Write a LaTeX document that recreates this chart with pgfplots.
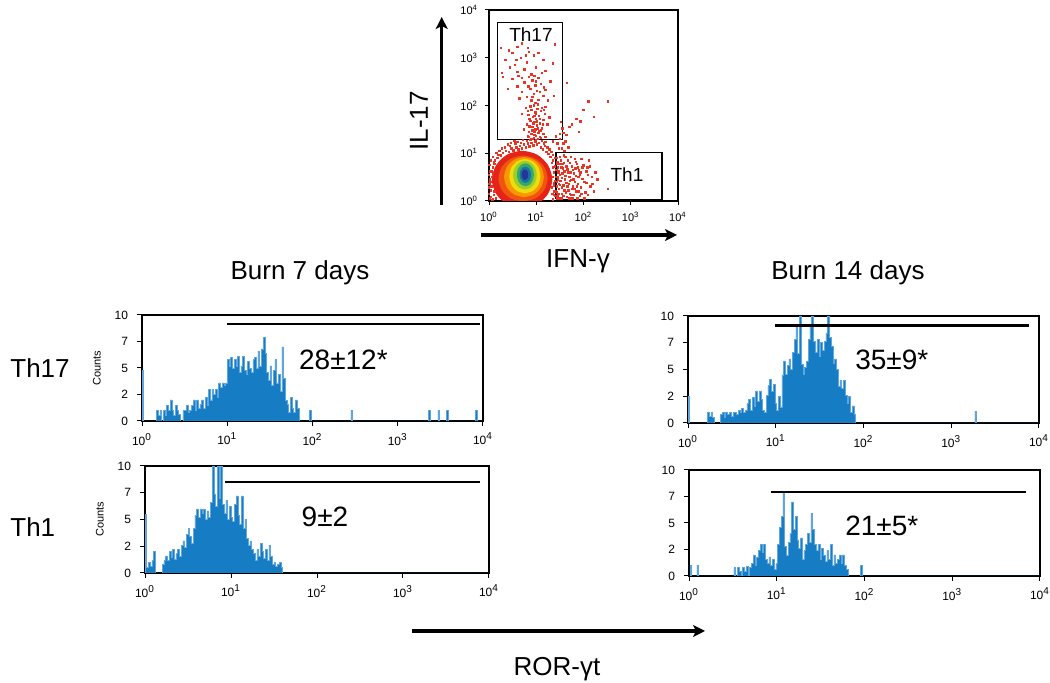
\documentclass[border=0pt]{standalone}
\usepackage{pgfplots}
\pgfplotsset{compat=1.18}
\usepackage{fontspec}
\setmainfont{Liberation Sans}
\usetikzlibrary{arrows.meta}
\definecolor{histblue}{RGB}{22,125,196}
\definecolor{histlight}{RGB}{95,165,222}
\definecolor{scatred}{RGB}{232,52,36}
\definecolor{c1}{RGB}{230,35,25}
\definecolor{c2}{RGB}{240,85,15}
\definecolor{c3}{RGB}{250,150,0}
\definecolor{c4}{RGB}{235,222,10}
\definecolor{c5}{RGB}{160,205,45}
\definecolor{c6}{RGB}{50,170,105}
\definecolor{c7}{RGB}{30,110,170}
\definecolor{c8}{RGB}{35,55,150}
\pgfplotsset{
  histo/.style={
    scale only axis, anchor=south west,
    xmin=0, xmax=4, ymin=0, ymax=10,
    xtick={0,1,2,3,4},
    xticklabels={10\textsuperscript{0},10\textsuperscript{1},10\textsuperscript{2},10\textsuperscript{3},10\textsuperscript{4}},
    ytick={0,2.5,5,7.5,10}, yticklabels={0,2,5,7,10},
    tick pos=left, tick align=outside, major tick length=2.5pt,
    tick style={black, line width=0.5pt},
    axis line style={line width=0.6pt},
    ticklabel style={font=\fontsize{6}{7}\selectfont},
    yticklabel style={xshift=-1pt},
    ylabel style={font=\fontsize{5.5}{6}\selectfont},
  },
  hbar/.style={const plot, fill=histblue, draw=histlight, line width=0.25pt},
  gateline/.style={black, line width=1.2pt, no marks},
}
\begin{document}
\begin{tikzpicture}
\useasboundingbox (0,0) rectangle (525pt,341.5pt);

% ---------------- scatter plot ----------------
\begin{axis}[
  at={(244.5pt,241pt)}, anchor=south west, scale only axis,
  width=94.5pt, height=95.5pt,
  xmin=0, xmax=4, ymin=0, ymax=4,
  xtick={0,1,2,3,4}, ytick={0,1,2,3,4},
  xticklabels={10\textsuperscript{0},10\textsuperscript{1},10\textsuperscript{2},10\textsuperscript{3},10\textsuperscript{4}},
  yticklabels={10\textsuperscript{0},10\textsuperscript{1},10\textsuperscript{2},10\textsuperscript{3},10\textsuperscript{4}},
  tick pos=left, tick align=outside, major tick length=2pt,
  tick style={black, line width=0.5pt},
  axis line style={line width=0.6pt},
  ticklabel style={font=\fontsize{5.5}{6}\selectfont},
]
\addplot[only marks, mark=square*, mark size=0.36pt, color=scatred, mark options={line width=0pt}] coordinates {
(0.02,0.05)(0.04,0.22)(0.01,0.35)(0.06,0.5)(0.03,0.62)(0.08,0.7)(0.10,0.12)(0.05,0.3)(0.12,0.78)(0.09,0.58)(0.02,0.45)(0.07,0.02)(0.13,0.85)(0.18,0.9)(0.15,0.05)
(0.25,0.95)(0.3,1.0)(0.36,1.05)(0.42,1.02)(0.48,1.1)(0.52,1.06)(0.58,1.12)(0.62,1.08)(0.66,1.15)(0.7,1.1)(0.74,1.18)(0.78,1.12)(0.82,1.2)(0.86,1.14)(0.9,1.22)(0.94,1.16)(0.98,1.25)(1.02,1.18)(1.06,1.22)(1.1,1.12)(1.14,1.08)(1.18,1.15)(1.22,1.02)(1.26,0.98)(1.3,0.92)(0.56,1.2)(0.88,1.28)(1.04,1.3)(0.44,1.15)(1.2,1.24)
(1.36,0.85)(1.4,0.72)(1.38,0.6)(1.42,0.5)(1.37,0.38)(1.44,0.3)(1.39,0.2)(1.41,0.1)(1.36,0.03)(1.43,0.65)(1.35,0.5)(1.4,0.42)(1.33,0.28)(1.38,0.12)(1.45,0.82)
(0.0,0.15)(0.0,0.55)(0.01,0.75)(0.04,0.85)(0.08,0.92)(0.16,1.0)(0.22,1.05)(0.28,1.1)(0.34,1.12)(0.4,1.18)(0.46,1.22)(0.54,1.26)(0.6,1.24)(0.68,1.22)(0.72,1.28)(0.8,1.26)(0.84,1.34)(0.92,1.3)(0.96,1.38)(1.08,1.34)(1.12,1.26)(1.16,1.2)(1.24,1.12)(1.28,1.08)(1.32,1.02)(1.36,0.96)(1.4,0.9)(1.44,0.78)(1.47,0.6)(1.46,0.45)(1.48,0.35)(1.47,0.15)(1.44,0.05)(1.35,0.7)(1.33,0.8)(1.38,0.32)(1.42,0.2)(1.34,0.15)
(0.04,0.08)(0.09,0.03)(0.12,0.2)(0.0,0.28)(0.03,0.4)(0.06,0.62)(0.1,0.82)(0.2,0.96)
(0.95,1.32)(1.0,1.36)(0.9,1.4)(1.05,1.42)(0.85,1.45)(1.1,1.48)(0.98,1.5)(0.92,1.55)(1.02,1.58)(1.12,1.52)(0.8,1.6)(1.08,1.62)(0.96,1.65)(0.88,1.68)(1.15,1.7)(1.0,1.72)(0.93,1.76)(1.06,1.78)(0.84,1.8)(1.18,1.82)(0.98,1.85)(1.1,1.88)(0.9,1.9)(1.03,1.93)(0.78,1.95)(1.2,1.97)(0.95,2.0)(0.74,1.5)(1.24,1.6)(0.7,1.82)(1.28,1.75)(1.15,1.4)(0.82,1.35)(1.2,1.34)(0.88,1.98)(1.06,1.46)(1.0,1.82)(0.94,1.62)(1.12,1.95)(0.86,1.56)
(0.9,1.3)(1.0,1.28)(1.1,1.32)(0.96,1.44)(1.04,1.52)(0.92,1.48)(1.14,1.6)(0.86,1.72)(1.02,1.66)(1.08,1.72)(0.96,1.78)(1.16,1.9)(0.82,1.88)(1.04,2.02)(0.92,2.18)(1.08,2.28)(0.84,2.4)(1.16,2.38)(0.96,2.62)(0.7,2.58)(1.12,2.68)(0.58,2.95)(0.78,3.05)(1.05,3.1)
(0.98,2.05)(0.9,2.1)(1.05,2.12)(0.8,2.18)(1.15,2.2)(0.95,2.24)(0.7,2.28)(1.02,2.3)(0.88,2.35)(1.2,2.32)(0.6,2.4)(0.98,2.42)(1.1,2.45)(0.75,2.48)(0.92,2.52)(1.3,2.5)(0.5,2.55)(1.05,2.58)(0.85,2.6)(0.4,2.35)(1.38,2.2)(0.3,2.6)(1.25,2.1)(0.65,2.15)(1.0,2.5)
(0.28,2.68)(0.6,2.7)(0.75,2.75)(0.9,2.65)(1.0,2.8)(0.55,2.85)(0.8,2.9)(0.35,2.95)(0.68,3.0)(0.95,3.05)(0.25,3.2)(0.42,3.15)(0.6,3.22)(0.82,3.2)(1.4,3.28)(1.15,2.95)(0.5,3.1)(1.2,2.72)(0.45,2.8)(0.7,3.3)(0.62,2.62)(0.85,3.12)(1.35,2.88)
(1.5,1.3)(1.58,1.42)(1.62,1.25)(1.7,1.55)(1.76,1.6)(1.85,1.72)(1.94,1.66)(2.0,1.9)(2.11,2.08)(2.22,1.76)(2.52,2.08)(1.65,2.47)(1.45,1.2)(1.55,1.1)(1.6,1.05)(1.9,1.45)(1.52,1.65)
(1.5,1.4)(1.58,1.2)(1.64,1.38)(1.35,1.25)(1.42,1.35)(1.48,1.1)(1.68,1.12)(1.56,1.52)
(1.45,0.1)(1.48,0.25)(1.44,0.4)(1.5,0.55)(1.46,0.7)(1.52,0.85)(1.55,0.15)(1.58,0.32)(1.54,0.48)(1.6,0.62)(1.56,0.78)(1.62,0.92)(1.65,0.08)(1.68,0.22)(1.64,0.38)(1.7,0.5)(1.66,0.66)(1.72,0.8)(1.75,0.12)(1.78,0.3)(1.74,0.44)(1.8,0.58)(1.76,0.72)(1.82,0.88)(1.85,0.2)(1.88,0.36)(1.84,0.52)(1.9,0.64)(1.86,0.78)(1.92,0.1)(1.95,0.28)(1.98,0.46)(1.94,0.6)(2.0,0.74)(2.04,0.18)(2.06,0.38)(2.1,0.55)(2.08,0.7)(2.15,0.3)(2.18,0.5)(2.12,0.85)(1.47,0.62)(1.5,0.33)(1.53,0.05)(1.57,0.68)(1.61,0.45)(1.63,0.18)(1.67,0.85)(1.69,0.35)(1.73,0.6)(1.77,0.05)(1.79,0.45)(1.83,0.68)(1.87,0.05)(1.89,0.5)(1.43,0.9)(1.59,0.95)(2.22,0.2)(2.52,0.25)(2.02,0.05)(1.96,0.88)(1.71,0.15)(1.81,0.25)(1.49,0.78)
(1.44,0.18)(1.46,0.5)(1.48,0.05)(1.5,0.92)(1.51,0.42)(1.53,0.7)(1.55,0.28)(1.56,0.58)(1.58,0.1)(1.59,0.8)(1.6,0.22)(1.62,0.52)(1.64,0.72)(1.66,0.3)(1.68,0.6)(1.7,0.05)(1.72,0.42)(1.74,0.92)(1.76,0.25)(1.78,0.65)(1.8,0.12)(1.82,0.4)(1.84,0.82)(1.86,0.3)(1.88,0.7)(1.9,0.2)(1.92,0.55)(1.96,0.15)(1.98,0.7)(2.02,0.4)(2.06,0.62)(2.1,0.12)(2.14,0.72)(2.19,0.35)(2.25,0.6)(2.3,0.45)
};
% density contours
\addplot[fill=c1, draw=none, smooth] coordinates {(0.70,-0.15)(1.02,-0.07)(1.25,0.15)(1.34,0.45)(1.25,0.75)(1.02,0.97)(0.70,1.05)(0.38,0.97)(0.15,0.75)(0.06,0.45)(0.15,0.15)(0.38,-0.07)(0.70,-0.15)};
\addplot[fill=c2, draw=none, smooth] coordinates {(0.72,-0.01)(0.98,0.054)(1.17,0.23)(1.24,0.47)(1.17,0.71)(0.98,0.886)(0.72,0.95)(0.46,0.886)(0.27,0.71)(0.20,0.47)(0.27,0.23)(0.46,0.054)(0.72,-0.01)};
\addplot[fill=c3, draw=none, smooth] coordinates {(0.74,0.08)(0.95,0.136)(1.104,0.29)(1.16,0.5)(1.104,0.71)(0.95,0.864)(0.74,0.92)(0.53,0.864)(0.376,0.71)(0.32,0.5)(0.376,0.29)(0.53,0.136)(0.74,0.08)};
\addplot[fill=c4, draw=none, smooth] coordinates {(0.76,0.16)(0.925,0.208)(1.046,0.34)(1.09,0.52)(1.046,0.70)(0.925,0.832)(0.76,0.88)(0.595,0.832)(0.474,0.70)(0.43,0.52)(0.474,0.34)(0.595,0.208)(0.76,0.16)};
\addplot[fill=c5, draw=none, smooth] coordinates {(0.76,0.24)(0.885,0.28)(0.977,0.39)(1.01,0.54)(0.977,0.69)(0.885,0.80)(0.76,0.84)(0.635,0.80)(0.543,0.69)(0.51,0.54)(0.543,0.39)(0.635,0.28)(0.76,0.24)};
\addplot[fill=c6, draw=none, smooth] coordinates {(0.77,0.31)(0.86,0.342)(0.926,0.43)(0.95,0.55)(0.926,0.67)(0.86,0.758)(0.77,0.79)(0.68,0.758)(0.614,0.67)(0.59,0.55)(0.614,0.43)(0.68,0.342)(0.77,0.31)};
\addplot[fill=c7, draw=none, smooth] coordinates {(0.77,0.38)(0.83,0.403)(0.874,0.465)(0.89,0.55)(0.874,0.635)(0.83,0.697)(0.77,0.72)(0.71,0.697)(0.666,0.635)(0.65,0.55)(0.666,0.465)(0.71,0.403)(0.77,0.38)};
\addplot[fill=c8, draw=none, smooth] coordinates {(0.76,0.44)(0.795,0.455)(0.82,0.495)(0.83,0.55)(0.82,0.605)(0.795,0.645)(0.76,0.66)(0.725,0.645)(0.70,0.605)(0.69,0.55)(0.70,0.495)(0.725,0.455)(0.76,0.44)};
% gates
\addplot[black, line width=0.6pt, no marks] coordinates {(0.18,1.28)(1.55,1.28)(1.55,3.74)(0.18,3.74)(0.18,1.28)};
\addplot[black, line width=0.6pt, no marks] coordinates {(1.42,0.035)(3.66,0.035)(3.66,1.01)(1.42,1.01)(1.42,0.035)};
\node[anchor=base west, font=\fontsize{9.5}{11}\selectfont] at (axis cs:0.28,3.34) {Th17};
\node[anchor=base, font=\fontsize{9.5}{11}\selectfont] at (axis cs:2.92,0.40) {Th1};
\end{axis}

% ---------------- histograms ----------------
\begin{axis}[histo, at={(71pt,131pt)}, width=170.5pt, height=53pt, ylabel={Counts}]
\addplot[hbar] coordinates {(0,4.8)(0.012,0)(0.17,1)(0.19,0.5)(0.21,1)(0.23,0)(0.25,1)(0.27,0.5)(0.29,1.5)(0.31,1)(0.33,2)(0.35,1)(0.37,0.5)(0.39,1.5)(0.41,1)(0.43,0.6)(0.45,0)(0.48,1)(0.50,1)(0.52,1.5)(0.54,0.8)(0.56,1)(0.58,1.5)(0.60,2)(0.62,1)(0.64,2)(0.66,1.2)(0.68,1.6)(0.70,2)(0.72,1.2)(0.74,2.2)(0.76,1.5)(0.78,3)(0.80,2)(0.82,3)(0.84,2.5)(0.86,3)(0.88,2.2)(0.90,3.6)(0.92,3.2)(0.94,3.6)(0.96,3.4)(0.98,3.6)(1.00,5.8)(1.02,5.2)(1.04,6)(1.06,5)(1.08,5.8)(1.10,5.2)(1.12,6.1)(1.14,4.6)(1.16,5.2)(1.18,6.1)(1.20,4.8)(1.22,4.4)(1.24,5.6)(1.26,5)(1.28,4.6)(1.30,5.8)(1.32,6)(1.34,5)(1.36,6.6)(1.38,5.2)(1.40,6.8)(1.42,7.9)(1.44,6.4)(1.46,4.6)(1.48,3.8)(1.50,5.2)(1.52,3.4)(1.54,4.8)(1.56,5.8)(1.58,3.6)(1.60,4.4)(1.62,2.8)(1.64,7)(1.66,4)(1.68,2)(1.70,1.6)(1.72,0.8)(1.74,2.2)(1.76,1.2)(1.78,0.8)(1.80,2)(1.82,1.2)(1.84,0)(1.96,1)(1.98,0)(2.45,1)(2.47,0)(3.36,1)(3.38,0)(3.47,1)(3.49,0)(3.57,1)(3.59,0)(3.91,1)(3.93,0)(4,0)} \closedcycle;
\addplot[gateline] coordinates {(1.0,9.15)(3.97,9.15)};
\end{axis}

\begin{axis}[histo, at={(344pt,130pt)}, width=175.5pt, height=53.5pt]
\addplot[hbar] coordinates {(0,2.5)(0.012,0)(0.22,1)(0.24,0.6)(0.26,1)(0.28,0.5)(0.30,0)(0.37,0.8)(0.39,1)(0.41,0.5)(0.43,1)(0.45,0.8)(0.47,1)(0.49,0.6)(0.51,1)(0.53,1)(0.55,0.8)(0.57,1.2)(0.59,1)(0.61,1.4)(0.63,1)(0.65,1.2)(0.67,1.8)(0.69,2.2)(0.71,1.2)(0.73,2.4)(0.75,1.6)(0.77,3)(0.79,2)(0.81,3)(0.83,2.2)(0.85,1.2)(0.87,1.0)(0.89,2.6)(0.91,3.5)(0.93,4.1)(0.95,3)(0.97,3.6)(0.99,1.8)(1.01,1.2)(1.03,2.5)(1.05,1.5)(1.07,4.5)(1.09,5.8)(1.11,4.6)(1.13,5.4)(1.15,6)(1.17,5)(1.19,6.6)(1.21,7.8)(1.23,9)(1.25,6.5)(1.27,10)(1.29,5.5)(1.31,4.6)(1.33,5.2)(1.35,5.8)(1.37,7.8)(1.39,9)(1.41,10)(1.43,7.6)(1.45,6.6)(1.47,7.8)(1.49,6.2)(1.51,7.5)(1.53,6.8)(1.55,7.6)(1.57,8.4)(1.59,10)(1.61,8)(1.63,7.2)(1.65,5.6)(1.67,6)(1.69,5)(1.71,3.4)(1.73,4)(1.75,3.2)(1.77,4)(1.79,2.6)(1.81,1.8)(1.83,2.5)(1.85,1)(1.87,1.6)(1.89,0.8)(1.91,0)(3.27,1.1)(3.29,0)(4,0)} \closedcycle;
\addplot[gateline] coordinates {(0.99,9.1)(3.89,9.1)};
\end{axis}

\begin{axis}[histo, at={(72.5pt,55pt)}, width=172pt, height=53.5pt, ylabel={Counts}]
\addplot[hbar] coordinates {(0,5.5)(0.02,0.5)(0.04,1)(0.06,0.6)(0.08,1.2)(0.10,2)(0.12,0)(0.20,0.8)(0.22,1.2)(0.24,1.6)(0.26,1.2)(0.28,2)(0.30,1.5)(0.32,2.2)(0.34,1.3)(0.36,1.8)(0.38,2.2)(0.40,1.6)(0.42,2.6)(0.44,3)(0.46,2.4)(0.48,3.6)(0.50,4.2)(0.52,3.4)(0.54,2.8)(0.56,4.2)(0.58,5.4)(0.60,6)(0.62,5.2)(0.64,6)(0.66,5.6)(0.68,6)(0.70,5)(0.72,5.8)(0.74,5.2)(0.76,6.6)(0.78,10)(0.80,7.4)(0.82,6.2)(0.84,10)(0.86,7)(0.88,10)(0.90,6.4)(0.92,5.6)(0.94,6.8)(0.96,5)(0.98,6.2)(1.00,5.2)(1.02,4.8)(1.04,6.4)(1.06,7.2)(1.08,5.4)(1.10,4.6)(1.12,7.2)(1.14,4.2)(1.16,5)(1.18,3.2)(1.20,2.6)(1.22,3)(1.24,2.2)(1.26,1.8)(1.28,1.2)(1.30,2.2)(1.32,1.6)(1.34,2.8)(1.36,2)(1.38,1.4)(1.40,2.2)(1.42,1.2)(1.44,2.6)(1.46,1.6)(1.48,0.8)(1.50,1)(1.52,0.6)(1.54,0.8)(1.56,1)(1.58,0.5)(1.60,0)(4,0)} \closedcycle;
\addplot[gateline] coordinates {(0.93,8.53)(3.89,8.53)};
\end{axis}

\begin{axis}[histo, at={(344.5pt,53.5pt)}, width=175.5pt, height=53pt]
\addplot[hbar] coordinates {(0,0)(0.01,1)(0.03,0)(0.09,1)(0.11,0)(0.51,0.8)(0.53,0)(0.55,0.8)(0.57,0.4)(0.59,0)(0.61,0.8)(0.63,0.4)(0.65,0.9)(0.67,0)(0.69,0.8)(0.71,1.2)(0.73,2)(0.75,1)(0.77,1.8)(0.79,2.4)(0.81,3)(0.83,2.2)(0.85,3)(0.87,1.6)(0.89,1.2)(0.91,1.8)(0.93,1)(0.95,1.6)(0.97,0.6)(0.99,1.2)(1.01,3)(1.03,4.6)(1.05,5.6)(1.07,8)(1.09,2.8)(1.11,2)(1.13,3.2)(1.15,4)(1.17,7)(1.19,4.4)(1.21,5.6)(1.23,3.4)(1.25,2.6)(1.27,3.6)(1.29,1.6)(1.31,2.4)(1.33,3)(1.35,4)(1.37,3.2)(1.39,5.9)(1.41,4.4)(1.43,3)(1.45,2.4)(1.47,3)(1.49,1.6)(1.51,2.6)(1.53,2)(1.55,1.4)(1.57,2.4)(1.59,1.6)(1.61,3)(1.63,1)(1.65,2)(1.67,1.2)(1.69,1.6)(1.71,2)(1.73,1.2)(1.75,2)(1.77,1)(1.79,0.6)(1.81,0)(1.95,1)(1.97,0)(4,0)} \closedcycle;
\addplot[gateline] coordinates {(0.935,7.95)(3.84,7.95)};
\end{axis}

% ---------------- labels and arrows ----------------
\draw[line width=1.6pt, -{Stealth[length=6pt, width=6pt, inset=1.5pt]}] (220.85pt,239pt) -- (220.85pt,333pt);
\draw[line width=1.6pt, -{Stealth[length=6pt, width=6pt, inset=1.5pt]}] (240.5pt,224pt) -- (338.5pt,224pt);
\draw[line width=1.6pt, -{Stealth[length=6pt, width=6pt, inset=1.5pt]}] (206pt,26pt) -- (352.5pt,26pt);
\node[rotate=90, font=\fontsize{13}{15}\selectfont] at (209.5pt,281pt) {IL-17};
\node[anchor=base, font=\fontsize{13}{15}\selectfont] at (289pt,207.5pt) {IFN-γ};
\node[anchor=base, font=\fontsize{13}{15}\selectfont] at (150pt,201.5pt) {Burn 7 days};
\node[anchor=base, font=\fontsize{13}{15}\selectfont] at (424pt,201.5pt) {Burn 14 days};
\node[anchor=base west, inner sep=0pt, font=\fontsize{13}{15}\selectfont] at (5pt,152.5pt) {Th17};
\node[anchor=base west, inner sep=0pt, font=\fontsize{13}{15}\selectfont] at (5pt,73pt) {Th1};
\node[anchor=base, font=\fontsize{13}{15}\selectfont] at (278.5pt,3.5pt) {ROR-γt};
\node[anchor=base, font=\fontsize{14}{16}\selectfont] at (171.7pt,156.5pt) {28±12*};
\node[anchor=base, font=\fontsize{14}{16}\selectfont] at (445.9pt,156.5pt) {35±9*};
\node[anchor=base, font=\fontsize{14}{16}\selectfont] at (162.5pt,78.2pt) {9±2};
\node[anchor=base, font=\fontsize{14}{16}\selectfont] at (440.9pt,73.7pt) {21±5*};
\end{tikzpicture}
\end{document}
